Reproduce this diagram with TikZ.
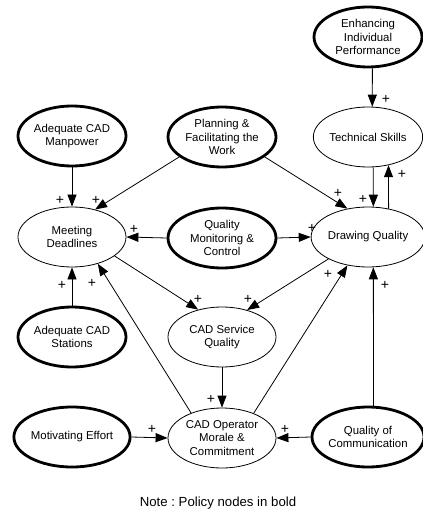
\documentclass[tikz,border=0pt]{standalone}
\usepackage{fontspec}
\setmainfont{Liberation Sans}
\usetikzlibrary{shapes.geometric,arrows.meta}
\frenchspacing
\begin{document}
\begin{tikzpicture}[x=1pt,y=-1pt,
  every node/.style={font=\fontsize{11.4}{13.5}\selectfont},
  var/.style={ellipse, draw, line width=0.8pt, minimum width=108pt, minimum height=60pt, inner sep=0pt, align=center},
  policy/.style={var, line width=2.8pt},
  link/.style={line width=0.8pt, -{Triangle[length=12pt,width=9pt]}},
  sign/.style={inner sep=0pt, font=\fontsize{14}{14}\selectfont}]
\useasboundingbox (0,0) rectangle (422,510);
% nodes
\node[policy] (en)  at (368,37)  {Enhancing\\Individual\\Performance};
\node[var]    (ts)  at (368,137) {Technical Skills};
\node[policy] (mp)  at (72,136)  {Adequate CAD\\Manpower};
\node[policy] (pl)  at (222,137) {Planning \&\\Facilitating the\\Work};
\node[var]    (md)  at (72,237)  {Meeting\\Deadlines};
\node[policy] (qmc) at (222,238) {Quality\\Monitoring \&\\Control};
\node[var]    (dq)  at (368,237) {Drawing Quality};
\node[policy] (st)  at (72,337)  {Adequate CAD\\Stations};
\node[var]    (csq) at (222,337) {CAD Service\\Quality};
\node[policy] (me)  at (72,437)  {Motivating Effort};
\node[var]    (cop) at (222,438) {CAD Operator\\Morale \&\\Commitment};
\node[policy] (qoc) at (368,437) {Quality of\\Communication};
\node[font=\fontsize{13.2}{15}\selectfont] (note) at (218,503) {Note : Policy nodes in bold};
% links
\draw[link] (en.278) -- (ts.82);
\draw[link] (ts.280) -- (dq.80);
\draw[link] (dq.54) -- (ts.306);
\draw[link] (mp.south) -- (md.north);
\draw[link] (pl.205) -- (md.50);
\draw[link] (pl.335) -- (dq.126);
\draw[link] (qmc.west) -- (md.east);
\draw[link] (qmc.east) -- (dq.west);
\draw[link] (md.336) -- (csq.131);
\draw[link] (dq.209) -- (csq.47);
\draw[link] (st.north) -- (md.south);
\draw[link] (cop.141) -- (md.314);
\draw[link] (cop.38) -- (dq.234);
\draw[link] (csq.south) -- (cop.north);
\draw[link] (qoc.80) -- (dq.280);
\draw[link] (me.east) -- (cop.west);
\draw[link] (qoc.west) -- (cop.east);
% signs
\node[sign] (s1)  at (386,99)  {+};
\node[sign] (s2)  at (363,199) {+};
\node[sign] (s3)  at (402,174) {+};
\node[sign] (s4)  at (60,200)  {+};
\node[sign] (s5)  at (96,200)  {+};
\node[sign] (s6)  at (338,193) {+};
\node[sign] (s7)  at (134,229) {+};
\node[sign] (s8)  at (312,228) {+};
\node[sign] (s9)  at (198,299) {+};
\node[sign] (s10) at (248,299) {+};
\node[sign] (s11) at (62,285)  {+};
\node[sign] (s12) at (92,283)  {+};
\node[sign] (s13) at (328,274) {+};
\node[sign] (s14) at (385,285) {+};
\node[sign] (s15) at (211,399) {+};
\node[sign] (s16) at (152,429) {+};
\node[sign] (s17) at (285,429) {+};
\end{tikzpicture}
\end{document}
